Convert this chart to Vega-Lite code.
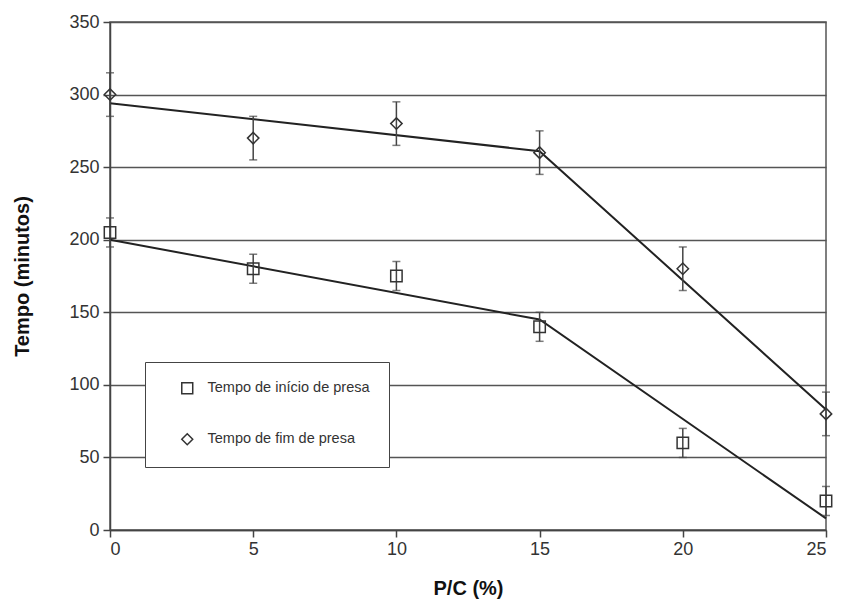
{
  "$schema": "https://vega.github.io/schema/vega-lite/v6.json",
  "width": 716,
  "height": 508,
  "autosize": "none",
  "padding": {"left": 110, "top": 22, "right": 16, "bottom": 69},
  "background": "white",
  "config": {
    "view": {"stroke": "#555", "strokeWidth": 1.5}
  },
  "datasets": {
    "pts": [
      {"serie": "Tempo de início de presa", "pc": 0, "t": 205, "lo": 195, "hi": 215},
      {"serie": "Tempo de início de presa", "pc": 5, "t": 180, "lo": 170, "hi": 190},
      {"serie": "Tempo de início de presa", "pc": 10, "t": 175, "lo": 165, "hi": 185},
      {"serie": "Tempo de início de presa", "pc": 15, "t": 140, "lo": 130, "hi": 150},
      {"serie": "Tempo de início de presa", "pc": 20, "t": 60, "lo": 50, "hi": 70},
      {"serie": "Tempo de início de presa", "pc": 25, "t": 20, "lo": 10, "hi": 30},
      {"serie": "Tempo de fim de presa", "pc": 0, "t": 300, "lo": 285, "hi": 315},
      {"serie": "Tempo de fim de presa", "pc": 5, "t": 270, "lo": 255, "hi": 285},
      {"serie": "Tempo de fim de presa", "pc": 10, "t": 280, "lo": 265, "hi": 295},
      {"serie": "Tempo de fim de presa", "pc": 15, "t": 260, "lo": 245, "hi": 275},
      {"serie": "Tempo de fim de presa", "pc": 20, "t": 180, "lo": 165, "hi": 195},
      {"serie": "Tempo de fim de presa", "pc": 25, "t": 80, "lo": 65, "hi": 95}
    ],
    "fit": [
      {"serie": "inicio", "pc": 0, "t": 200},
      {"serie": "inicio", "pc": 15, "t": 145},
      {"serie": "inicio", "pc": 25, "t": 8},
      {"serie": "fim", "pc": 0, "t": 294},
      {"serie": "fim", "pc": 15, "t": 261},
      {"serie": "fim", "pc": 25, "t": 83}
    ]
  },
  "layer": [
    {
      "data": {"name": "fit"},
      "mark": {"type": "line", "color": "#222", "strokeWidth": 2},
      "encoding": {
        "x": {
          "field": "pc", "type": "quantitative",
          "scale": {"domain": [0, 25], "nice": false},
          "axis": {
            "title": "P/C (%)", "values": [0, 5, 10, 15, 20, 25], "grid": false,
            "labelPadding": 3, "titlePadding": 20,
            "labelFont": "Liberation Sans", "labelFontSize": 18, "labelColor": "#333",
            "titleFont": "Liberation Sans", "titleFontSize": 20, "titleFontWeight": "bold", "titleColor": "#111",
            "domainColor": "#444", "domainWidth": 1.5, "tickColor": "#444", "tickWidth": 1.5, "tickSize": 7
          }
        },
        "y": {
          "field": "t", "type": "quantitative",
          "scale": {"domain": [0, 350], "nice": false},
          "axis": {
            "title": "Tempo (minutos)", "values": [0, 50, 100, 150, 200, 250, 300, 350], "grid": true,
            "labelPadding": 4, "titlePadding": 36,
            "labelFont": "Liberation Sans", "labelFontSize": 18, "labelColor": "#333",
            "titleFont": "Liberation Sans", "titleFontSize": 20, "titleFontWeight": "bold", "titleColor": "#111",
            "domainColor": "#444", "domainWidth": 1.5, "tickColor": "#444", "tickWidth": 1.5, "tickSize": 7,
            "gridColor": "#555", "gridWidth": 1.5, "gridOpacity": 1
          }
        },
        "detail": {"field": "serie"}
      }
    },
    {
      "data": {"name": "pts"},
      "mark": {"type": "errorbar", "ticks": {"size": 8, "color": "#444"}, "color": "#444", "thickness": 1.5},
      "encoding": {
        "x": {"field": "pc", "type": "quantitative", "title": "P/C (%)"},
        "y": {"field": "lo", "type": "quantitative", "title": "Tempo (minutos)"},
        "y2": {"field": "hi"}
      }
    },
    {
      "data": {"name": "pts"},
      "mark": {"type": "point", "filled": false, "color": "#333", "strokeWidth": 1.5, "size": 130, "opacity": 1},
      "encoding": {
        "x": {"field": "pc", "type": "quantitative", "title": "P/C (%)"},
        "y": {"field": "t", "type": "quantitative", "title": "Tempo (minutos)"},
        "shape": {
          "field": "serie", "type": "nominal",
          "scale": {"domain": ["Tempo de início de presa", "Tempo de fim de presa"], "range": ["square", "diamond"]},
          "legend": {
            "title": null,
            "orient": "none",
            "legendX": 35,
            "legendY": 340,
            "padding": 19,
            "symbolOffset": 16,
            "strokeColor": "#444",
            "fillColor": "white",
            "labelFontSize": 14.5,
            "labelFont": "Liberation Sans",
            "labelColor": "#333",
            "labelOffset": 13,
            "labelLimit": 400,
            "rowPadding": 33,
            "symbolSize": 120,
            "symbolStrokeWidth": 1.5,
            "symbolStrokeColor": "#333",
            "symbolOpacity": 1
          }
        }
      }
    }
  ]
}
